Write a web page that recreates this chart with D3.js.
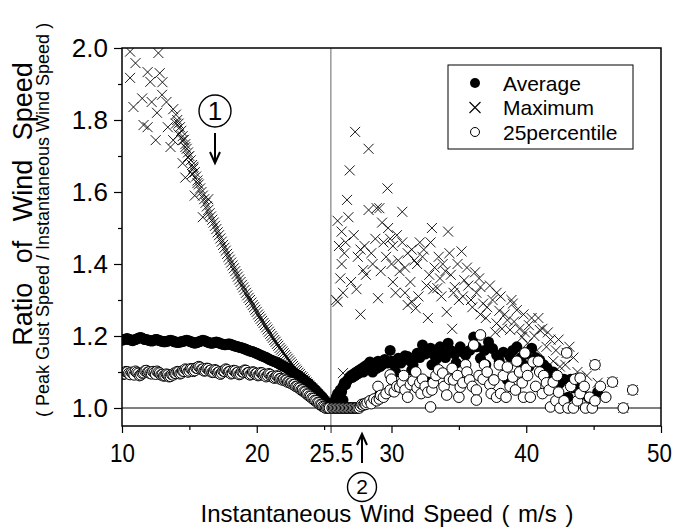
<!DOCTYPE html>
<html>
<head>
<meta charset="utf-8">
<script src="https://cdn.jsdelivr.net/npm/d3@7"></script>
<style>
  body { margin: 0; background: #fff; }
  svg { display: block; }
  .axis path.domain { display: none; }
  .axis line { stroke: #000; stroke-width: 1.2; }
  .axis text { font-family: "Liberation Sans", Arial, sans-serif; font-size: 26px; fill: #000; }
  .title { font-family: "Liberation Sans", Arial, sans-serif; fill: #000; }
</style>
</head>
<body>
<div id="chart"></div>
<script>
// ---- data ----
// left of the 25.5 m/s line the points sit on 0.1 m/s bins starting at 10.0
const leftStart = 10.0, leftStep = 0.1;

const avgLeft = [
  1.188, 1.190, 1.191, 1.192, 1.193, 1.190, 1.190, 1.188, 1.187, 1.189,
  1.190, 1.192, 1.194, 1.195, 1.196, 1.194, 1.192, 1.190, 1.190, 1.189,
  1.188, 1.187, 1.186, 1.187, 1.189, 1.190, 1.190, 1.188, 1.187, 1.186,
  1.185, 1.184, 1.184, 1.185, 1.186, 1.187, 1.188, 1.187, 1.186, 1.184,
  1.183, 1.182, 1.182, 1.183, 1.184, 1.185, 1.186, 1.187, 1.188, 1.187,
  1.186, 1.184, 1.183, 1.181, 1.180, 1.181, 1.182, 1.184, 1.185, 1.187,
  1.188, 1.187, 1.186, 1.184, 1.182, 1.181, 1.180, 1.180, 1.181, 1.182,
  1.183, 1.182, 1.181, 1.179, 1.178, 1.177, 1.176, 1.176, 1.177, 1.178,
  1.178, 1.176, 1.175, 1.173, 1.172, 1.171, 1.170, 1.169, 1.168, 1.167,
  1.166, 1.164, 1.163, 1.161, 1.160, 1.158, 1.157, 1.156, 1.155, 1.153,
  1.152, 1.150, 1.148, 1.146, 1.145, 1.143, 1.142, 1.140, 1.138, 1.136,
  1.134, 1.132, 1.131, 1.129, 1.128, 1.126, 1.124, 1.122, 1.120, 1.118,
  1.116, 1.114, 1.112, 1.110, 1.107, 1.105, 1.102, 1.100, 1.097, 1.095,
  1.092, 1.090, 1.087, 1.084, 1.081, 1.078, 1.075, 1.072, 1.069, 1.066,
  1.062, 1.059, 1.055, 1.052, 1.048, 1.044, 1.040, 1.036, 1.032, 1.028,
  1.023, 1.019, 1.014, 1.010, 1.005
];

const p25Left = [
  1.098, 1.094, 1.095, 1.101, 1.100, 1.096, 1.093, 1.099, 1.097, 1.092,
  1.102, 1.099, 1.096, 1.090, 1.092, 1.097, 1.098, 1.103, 1.104, 1.099,
  1.100, 1.096, 1.095, 1.101, 1.098, 1.094, 1.102, 1.099, 1.097, 1.092,
  1.093, 1.089, 1.090, 1.094, 1.092, 1.087, 1.088, 1.093, 1.092, 1.097,
  1.096, 1.101, 1.100, 1.095, 1.097, 1.103, 1.102, 1.108, 1.106, 1.100,
  1.103, 1.109, 1.108, 1.102, 1.104, 1.111, 1.110, 1.115, 1.113, 1.107,
  1.108, 1.103, 1.104, 1.110, 1.109, 1.103, 1.105, 1.099, 1.100, 1.106,
  1.104, 1.098, 1.100, 1.094, 1.097, 1.103, 1.102, 1.108, 1.106, 1.100,
  1.101, 1.095, 1.097, 1.104, 1.103, 1.097, 1.099, 1.093, 1.095, 1.101,
  1.100, 1.105, 1.104, 1.097, 1.098, 1.092, 1.094, 1.100, 1.099, 1.094,
  1.096, 1.090, 1.092, 1.098, 1.097, 1.091, 1.093, 1.087, 1.090, 1.095,
  1.093, 1.087, 1.088, 1.083, 1.085, 1.089, 1.087, 1.081, 1.082, 1.078,
  1.080, 1.076, 1.077, 1.072, 1.073, 1.069, 1.070, 1.065, 1.065, 1.060,
  1.060, 1.056, 1.055, 1.050, 1.050, 1.045, 1.044, 1.039, 1.038, 1.033,
  1.032, 1.027, 1.026, 1.021, 1.020, 1.015, 1.014, 1.009, 1.008, 1.004,
  1.003, 1.000, 1.000, 1.000, 1.000
];

// maximum: dense curve on the same bins, from 14.0 to 25.4
const maxCurveStart = 14.0;
const maxCurve = [
  1.815, 1.800, 1.790, 1.780, 1.770, 1.755, 1.745, 1.733, 1.720, 1.710,
  1.700, 1.688, 1.675, 1.665, 1.655, 1.643, 1.632, 1.621, 1.610, 1.600,
  1.590, 1.580, 1.570, 1.560, 1.550, 1.541, 1.532, 1.523, 1.515, 1.506,
  1.497, 1.488, 1.480, 1.471, 1.462, 1.453, 1.445, 1.437, 1.428, 1.420,
  1.412, 1.404, 1.396, 1.388, 1.380, 1.372, 1.365, 1.357, 1.350, 1.342,
  1.335, 1.328, 1.320, 1.313, 1.306, 1.300, 1.293, 1.286, 1.280, 1.273,
  1.267, 1.260, 1.254, 1.248, 1.242, 1.236, 1.230, 1.224, 1.218, 1.212,
  1.206, 1.200, 1.195, 1.189, 1.184, 1.178, 1.173, 1.167, 1.162, 1.157,
  1.152, 1.147, 1.142, 1.137, 1.132, 1.127, 1.122, 1.117, 1.112, 1.107,
  1.103, 1.098, 1.094, 1.089, 1.085, 1.080, 1.076, 1.071, 1.067, 1.062,
  1.058, 1.054, 1.050, 1.046, 1.042, 1.038, 1.034, 1.030, 1.026, 1.022,
  1.018, 1.014, 1.010, 1.006, 1.003
];

// maximum: scattered points at low speed
const maxLeftScatter = [
  [10.6, 1.99], [10.6, 1.917], [11.0, 1.958], [10.85, 1.836], [11.5, 1.86],
  [11.6, 1.786], [11.9, 1.78], [11.9, 1.933], [12.1, 1.906], [12.2, 1.85],
  [12.7, 1.986], [12.8, 1.93], [13.0, 1.905], [12.97, 1.87], [13.3, 1.85],
  [13.8, 1.83], [12.6, 1.82], [12.5, 1.744], [13.4, 1.78], [13.8, 1.744],
  [13.6, 1.725], [14.2, 1.76], [14.5, 1.744], [14.7, 1.725], [14.5, 1.68],
  [14.7, 1.64], [15.2, 1.65], [15.4, 1.59], [14.9, 1.697], [15.3, 1.67],
  [15.6, 1.625], [16.0, 1.53], [14.0, 1.79], [16.4, 1.58]
];

// right of the 25.5 m/s line: [speed, ratio]
const maxRight = [
  [25.9, 1.30], [26.0, 1.52], [26.0, 1.295], [26.1, 1.45], [26.2, 1.36], [26.3, 1.49],
  [26.3, 1.40], [26.4, 1.32], [26.4, 1.097], [26.5, 1.43], [26.6, 1.46], [26.7, 1.578],
  [26.8, 1.53], [26.9, 1.66], [27.0, 1.35], [27.2, 1.48], [27.3, 1.767], [27.4, 1.33],
  [27.5, 1.42], [27.7, 1.44], [27.7, 1.26], [27.9, 1.383], [28.0, 1.45], [28.1, 1.37],
  [28.3, 1.72], [28.3, 1.55], [28.5, 1.43], [28.6, 1.40], [28.8, 1.47], [28.9, 1.555],
  [29.0, 1.305], [29.1, 1.555], [29.2, 1.38], [29.3, 1.515], [29.4, 1.46], [29.6, 1.42],
  [29.7, 1.61], [29.75, 1.50], [29.9, 1.47], [30.0, 1.40], [30.1, 1.45], [30.1, 1.35],
  [30.3, 1.32], [30.4, 1.48], [30.5, 1.41], [30.6, 1.38], [30.8, 1.545], [30.8, 1.46],
  [31.0, 1.32], [31.0, 1.39], [31.2, 1.43], [31.2, 1.286], [31.4, 1.35], [31.5, 1.295],
  [31.5, 1.44], [31.7, 1.41], [31.8, 1.277], [31.9, 1.40], [32.0, 1.31], [32.1, 1.46],
  [32.3, 1.42], [32.4, 1.44], [32.6, 1.34], [32.7, 1.25], [32.8, 1.37], [32.9, 1.46],
  [33.0, 1.50], [33.1, 1.33], [33.2, 1.39], [33.4, 1.333], [33.5, 1.42], [33.6, 1.36],
  [33.7, 1.31], [33.8, 1.40], [34.0, 1.38], [34.1, 1.267], [34.2, 1.49], [34.3, 1.43],
  [34.4, 1.37], [34.5, 1.22], [34.6, 1.32], [34.7, 1.336], [34.9, 1.40], [35.0, 1.30],
  [35.2, 1.435], [35.3, 1.31], [35.4, 1.355], [35.6, 1.39], [35.7, 1.34], [35.9, 1.30],
  [36.0, 1.28], [36.2, 1.377], [36.3, 1.32], [36.5, 1.36], [36.6, 1.336], [36.6, 1.26],
  [36.8, 1.29], [37.0, 1.25], [37.1, 1.28], [37.3, 1.34], [37.5, 1.30], [37.7, 1.21],
  [37.8, 1.32], [37.8, 1.235], [38.0, 1.27], [38.1, 1.31], [38.2, 1.22], [38.4, 1.26],
  [38.6, 1.244], [38.8, 1.217], [38.9, 1.30], [39.0, 1.29], [39.1, 1.24], [39.3, 1.272],
  [39.5, 1.22], [39.7, 1.197], [39.8, 1.26], [39.9, 1.21], [40.1, 1.18], [40.2, 1.23],
  [40.4, 1.25], [40.6, 1.20], [40.8, 1.16], [40.9, 1.25], [41.0, 1.217], [41.2, 1.22],
  [41.5, 1.17], [41.6, 1.21], [41.8, 1.19], [42.0, 1.13], [42.2, 1.16], [42.4, 1.19],
  [42.5, 1.115], [42.9, 1.12], [43.0, 1.153], [43.2, 1.17], [43.5, 1.14], [43.8, 1.10],
  [44.0, 1.083], [44.5, 1.09], [45.1, 1.12], [45.3, 1.07], [46.4, 1.072], [47.2, 1.00],
  [47.9, 1.05]
];

const avgRight = [
  [25.6, 1.005], [25.7, 1.015], [25.8, 1.02], [25.9, 1.03], [26.0, 1.04], [26.1, 1.035],
  [26.2, 1.05], [26.3, 1.045], [26.4, 1.022], [26.4, 1.06], [26.5, 1.07], [26.6, 1.065],
  [26.7, 1.075], [26.8, 1.08], [26.9, 1.086], [27.0, 1.09], [27.1, 1.085], [27.2, 1.095],
  [27.3, 1.09], [27.4, 1.10], [27.5, 1.095], [27.6, 1.105], [27.7, 1.10], [27.8, 1.11],
  [27.9, 1.10], [28.0, 1.115], [28.1, 1.105], [28.2, 1.12], [28.3, 1.11], [28.4, 1.128],
  [28.5, 1.115], [28.6, 1.10], [28.7, 1.12], [28.8, 1.125], [28.9, 1.11], [29.0, 1.13],
  [29.15, 1.115], [29.15, 1.04], [29.3, 1.12], [29.5, 1.135], [29.7, 1.125], [29.9, 1.16],
  [30.0, 1.13], [30.2, 1.12], [30.3, 1.10], [30.5, 1.138], [30.7, 1.125], [31.0, 1.145],
  [31.2, 1.143], [31.4, 1.13], [31.5, 1.105], [31.6, 1.12], [31.9, 1.152], [32.1, 1.14],
  [32.3, 1.175], [32.5, 1.15], [32.7, 1.072], [32.9, 1.166], [33.0, 1.12], [33.1, 1.15],
  [33.3, 1.135], [33.6, 1.17], [33.8, 1.155], [34.0, 1.14], [34.2, 1.18], [34.4, 1.16],
  [34.7, 1.15], [34.8, 1.125], [35.1, 1.17], [35.3, 1.155], [35.5, 1.147], [35.8, 1.16],
  [36.1, 1.197], [36.3, 1.17], [36.6, 1.138], [36.9, 1.16], [37.0, 1.12], [37.2, 1.183],
  [37.5, 1.165], [37.8, 1.147], [38.0, 1.13], [38.3, 1.155], [38.6, 1.078], [38.8, 1.143],
  [39.0, 1.16], [39.3, 1.17], [39.6, 1.14], [39.8, 1.12], [40.0, 1.15], [40.2, 1.115],
  [40.4, 1.166], [40.7, 1.14], [41.0, 1.133], [41.3, 1.12], [41.5, 1.09], [41.55, 1.111],
  [41.9, 1.078], [42.0, 1.10], [42.2, 1.09], [42.5, 1.069], [42.8, 1.08], [43.1, 1.03],
  [43.3, 1.08], [43.5, 1.056], [43.8, 1.065], [44.0, 1.045], [44.2, 1.056], [44.6, 1.03],
  [45.3, 1.044]
];

const p25Right = [
  [25.6, 1.0], [25.7, 1.0], [25.8, 1.0], [25.9, 1.0], [26.0, 1.0], [26.1, 1.0], [26.2, 1.0],
  [26.3, 1.0], [26.4, 1.0], [26.5, 1.0], [26.6, 1.0], [26.7, 1.0], [26.8, 1.0], [26.9, 1.0],
  [27.0, 1.0], [27.1, 1.0], [27.2, 1.0], [27.3, 1.0], [27.4, 1.0], [27.5, 1.0], [27.6, 1.0],
  [27.7, 1.005], [27.8, 1.01], [27.9, 1.008], [28.0, 1.012], [28.1, 1.01], [28.2, 1.015],
  [28.4, 1.02], [28.5, 1.012], [28.7, 1.025], [28.9, 1.02], [29.0, 1.06], [29.1, 1.025],
  [29.2, 1.035], [29.4, 1.03], [29.6, 1.04], [29.9, 1.05], [29.9, 1.092], [30.0, 1.08],
  [30.2, 1.045], [30.4, 1.06], [30.6, 1.058], [30.8, 1.07], [30.9, 1.09], [31.0, 1.05],
  [31.2, 1.03], [31.4, 1.065], [31.6, 1.075], [31.8, 1.10], [31.9, 1.056], [32.1, 1.07],
  [32.2, 1.04], [32.3, 1.08], [32.5, 1.06], [32.7, 1.044], [32.9, 1.003], [33.0, 1.05],
  [33.1, 1.07], [33.3, 1.09], [33.5, 1.106], [33.8, 1.097], [33.9, 1.06], [34.1, 1.036],
  [34.3, 1.08], [34.5, 1.11], [34.6, 1.078], [34.9, 1.09], [35.0, 1.03], [35.1, 1.058],
  [35.3, 1.07], [35.5, 1.12], [35.6, 1.10], [35.8, 1.078], [36.0, 1.06], [36.1, 1.175],
  [36.3, 1.05], [36.3, 1.022], [36.5, 1.09], [36.6, 1.203], [36.8, 1.08], [36.9, 1.12],
  [37.1, 1.10], [37.3, 1.065], [37.4, 1.04], [37.6, 1.078], [37.8, 1.03], [38.0, 1.12],
  [38.1, 1.04], [38.3, 1.09], [38.5, 1.03], [38.6, 1.114], [38.8, 1.06], [39.0, 1.086],
  [39.2, 1.05], [39.3, 1.13], [39.5, 1.10], [39.7, 1.07], [39.8, 1.03], [39.9, 1.153],
  [40.0, 1.11], [40.1, 1.09], [40.3, 1.03], [40.5, 1.128], [40.7, 1.06], [40.9, 1.13],
  [41.0, 1.10], [41.2, 1.04], [41.3, 1.09], [41.5, 1.07], [41.7, 1.05], [41.8, 1.003],
  [42.0, 1.072], [42.2, 1.02], [42.3, 1.09], [42.4, 1.044], [42.5, 1.0], [42.8, 1.02],
  [43.0, 1.153], [43.1, 1.0], [43.3, 1.06], [43.5, 1.0], [43.6, 1.08], [43.8, 1.02],
  [44.0, 1.083], [44.0, 1.04], [44.3, 1.06], [44.4, 1.0], [44.7, 1.03], [44.9, 1.0],
  [45.1, 1.12], [45.1, 1.02], [45.5, 1.06], [45.9, 1.03], [46.4, 1.072], [47.2, 1.0],
  [47.9, 1.05]
];

const xMajor = [10, 20, 25.5, 30, 40, 50];
const xMinor = [15, 25, 35, 45];
const yMajor = [1.0, 1.2, 1.4, 1.6, 1.8, 2.0];
const yMinor = [1.1, 1.3, 1.5, 1.7, 1.9];
const legendItems = ["Average", "Maximum", "25percentile"];

// ---- build point lists ----
const avgPts = avgLeft.map((v, i) => [leftStart + i * leftStep, v]).concat(avgRight);
const p25Pts = p25Left.map((v, i) => [leftStart + i * leftStep, v]).concat(p25Right);
const maxPts = maxLeftScatter
  .concat(maxCurve.map((v, i) => [maxCurveStart + i * leftStep, v]))
  .concat(maxRight);

// ---- layout ----
let margin = {top: 48, right: 15, bottom: 102, left: 122},
    width = 676 - margin.left - margin.right,
    height = 528 - margin.top - margin.bottom;

let xScale = d3.scaleLinear().domain([10, 50]).range([0, width]);
let yScale = d3.scaleLinear().domain([0.95, 2.0]).range([height, 0]);

let root = d3.select("#chart").append("svg")
    .attr("width", 676)
    .attr("height", 528);
let svg = root.append("g")
    .attr("transform", "translate(" + margin.left + "," + margin.top + ")");

svg.append("clipPath").attr("id", "plotclip")
  .append("rect").attr("width", width).attr("height", height);

// reference lines
svg.append("line")
  .attr("x1", 0).attr("x2", width)
  .attr("y1", yScale(1.0)).attr("y2", yScale(1.0))
  .attr("stroke", "#000").attr("stroke-width", 1);

svg.append("line")
  .attr("x1", xScale(25.5)).attr("x2", xScale(25.5))
  .attr("y1", 0).attr("y2", height + 7)
  .attr("stroke", "#808080").attr("stroke-width", 1.2);

// points
let plot = svg.append("g").attr("clip-path", "url(#plotclip)");

plot.append("g").selectAll("circle")
  .data(avgPts).enter().append("circle")
  .attr("cx", d => xScale(d[0]))
  .attr("cy", d => yScale(d[1]))
  .attr("r", 5.5)
  .attr("fill", "#000");

plot.append("g").selectAll("path")
  .data(maxPts).enter().append("path")
  .attr("transform", d => "translate(" + xScale(d[0]) + "," + yScale(d[1]) + ")")
  .attr("d", "M-5,-5L5,5M-5,5L5,-5")
  .attr("fill", "none")
  .attr("stroke", "#000")
  .attr("stroke-width", 0.9);

plot.append("g").selectAll("circle")
  .data(p25Pts).enter().append("circle")
  .attr("cx", d => xScale(d[0]))
  .attr("cy", d => yScale(d[1]))
  .attr("r", 5.3)
  .attr("fill", "#fff")
  .attr("stroke", "#000")
  .attr("stroke-width", 1);

// axes
let xAxis = d3.axisBottom(xScale).tickValues(xMajor).tickSize(7).tickPadding(8)
  .tickFormat(d => d === 25.5 ? "25.5" : d3.format("d")(d));
let xAxisMinor = d3.axisBottom(xScale).tickValues(xMinor).tickSize(4).tickFormat("");
let yAxis = d3.axisLeft(yScale).tickValues(yMajor).tickSize(8).tickPadding(6)
  .tickFormat(d3.format(".1f"));
let yAxisMinor = d3.axisLeft(yScale).tickValues(yMinor).tickSize(4).tickFormat("");

let gx = svg.append("g").attr("class", "axis")
  .attr("transform", "translate(0," + height + ")").call(xAxis);
gx.selectAll("text").attr("dy", null).attr("y", 36);
gx.selectAll(".tick").filter(d => d === 25.5).select("line").style("stroke", "#808080");
// keep the last label inside the picture
gx.selectAll(".tick").filter(d => d === 50).select("text").attr("x", -2);
svg.append("g").attr("class", "axis")
  .attr("transform", "translate(0," + height + ")").call(xAxisMinor);

let gy = svg.append("g").attr("class", "axis").call(yAxis);
svg.append("g").attr("class", "axis").call(yAxisMinor);

// the reference uses a narrow gothic face: squeeze the tick labels
gx.selectAll("text").merge(gy.selectAll("text")).each(function() {
  let w = this.getComputedTextLength();
  d3.select(this).attr("textLength", w * 0.86).attr("lengthAdjust", "spacingAndGlyphs");
});

// frame
svg.append("rect")
  .attr("width", width).attr("height", height)
  .attr("fill", "none").attr("stroke", "#000").attr("stroke-width", 1.5);

// legend
let legend = svg.append("g").attr("transform", "translate(" + (448 - margin.left) + "," + (65 - margin.top) + ")");
legend.append("rect").attr("width", 185).attr("height", 84)
  .attr("fill", "#fff").attr("stroke", "#000").attr("stroke-width", 1);
let rows = legend.selectAll("g.row").data(legendItems).enter().append("g")
  .attr("class", "row")
  .attr("transform", (d, i) => "translate(27," + (18 + i * 24.5) + ")");
rows.filter((d, i) => i === 0).append("circle").attr("r", 5).attr("fill", "#000");
rows.filter((d, i) => i === 1).append("path").attr("d", "M-5.5,-5.5L5.5,5.5M-5.5,5.5L5.5,-5.5")
  .attr("stroke", "#000").attr("stroke-width", 1.1);
rows.filter((d, i) => i === 2).append("circle").attr("r", 4.5).attr("fill", "#fff")
  .attr("stroke", "#000").attr("stroke-width", 1);
rows.append("text")
  .attr("class", "title")
  .attr("x", 28).attr("dy", "0.36em")
  .style("font-size", "21px")
  .text(d => d);

// axis titles
root.append("text").attr("class", "title")
  .attr("transform", "translate(32,204) rotate(-90)")
  .attr("text-anchor", "middle")
  .style("font-size", "27px")
  .style("word-spacing", "12px")
  .text("Ratio of Wind Speed");

root.append("text").attr("class", "title")
  .attr("transform", "translate(49,220) rotate(-90)")
  .attr("text-anchor", "middle")
  .style("font-size", "18px")
  .text("( Peak Gust Speed / Instantaneous Wind Speed )");

root.append("text").attr("class", "title")
  .attr("x", 387).attr("y", 522)
  .attr("text-anchor", "middle")
  .style("font-size", "24px")
  .style("word-spacing", "2px")
  .text("Instantaneous Wind Speed ( m/s )");

// circled markers 1 and 2 with their arrows
function circledMark(cx, cy, r, label, size) {
  root.append("circle")
    .attr("cx", cx).attr("cy", cy).attr("r", r)
    .attr("fill", "none").attr("stroke", "#000").attr("stroke-width", 1.4);
  root.append("text").attr("class", "title")
    .attr("x", cx).attr("y", cy).attr("dy", "0.35em")
    .attr("text-anchor", "middle")
    .style("font-size", size + "px")
    .text(label);
}

circledMark(215, 111, 16, "1", 26);
root.append("path")
  .attr("d", "M215,133V163M210,152L215,163L220,152")
  .attr("fill", "none").attr("stroke", "#000").attr("stroke-width", 2);

circledMark(362, 487, 14.5, "2", 21);
root.append("path")
  .attr("d", "M362,463V434M357,445L362,434L367,445")
  .attr("fill", "none").attr("stroke", "#000").attr("stroke-width", 2);
</script>
</body>
</html>
